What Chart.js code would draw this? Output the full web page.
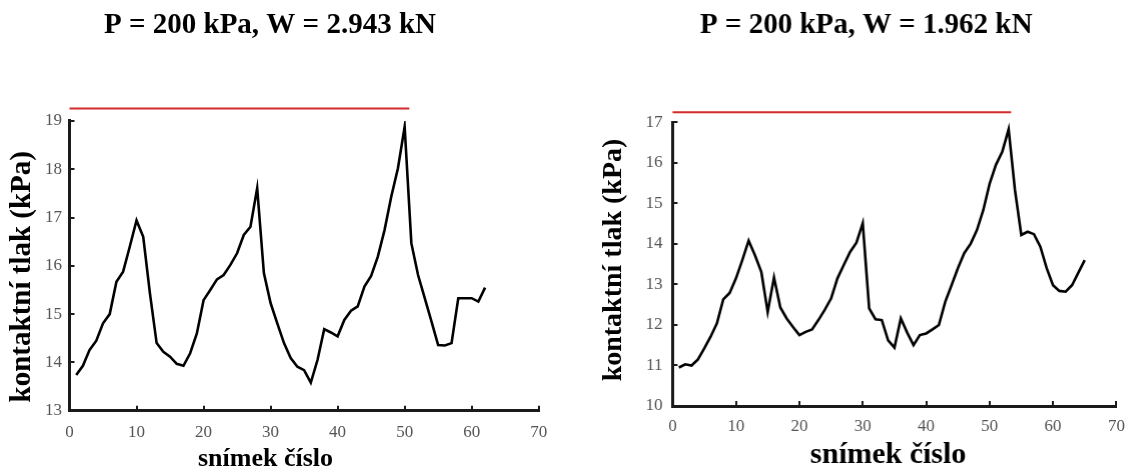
<!DOCTYPE html>
<html lang="cs">
<head>
<meta charset="UTF-8">
<title>Kontaktní tlak</title>
<style>
  body { margin: 0; background: #fff; width: 1129px; height: 470px; overflow: hidden; position: relative; }
  .box { position: absolute; top: 0; height: 470px; }
  #left { left: -24px; width: 588px; }
  #right { left: 592.3px; width: 547.4px; }
</style>
</head>
<body>
<div class="box" id="left"><canvas id="chartLeft"></canvas></div>
<div class="box" id="right"><canvas id="chartRight"></canvas></div>

<script src="https://cdn.jsdelivr.net/npm/chart.js@4"></script>
<script>
  // data (frame number = index + 1)
  const leftTitle = 'P = 200 kPa, W = 2.943 kN';
  const rightTitle = 'P = 200 kPa, W = 1.962 kN';
  const xLabel = 'snímek číslo';
  const yLabel = 'kontaktní tlak (kPa)';

  const leftPressure = [13.74, 13.93, 14.26, 14.45, 14.81, 15.00, 15.67, 15.88, 16.40, 16.94,
    16.60, 15.43, 14.40, 14.22, 14.12, 13.97, 13.93, 14.19, 14.60, 15.29,
    15.50, 15.72, 15.81, 16.02, 16.26, 16.64, 16.81, 17.61, 15.85, 15.23,
    14.81, 14.40, 14.09, 13.91, 13.84, 13.58, 14.05, 14.69, 14.62, 14.54,
    14.88, 15.07, 15.16, 15.57, 15.79, 16.19, 16.74, 17.43, 18.02, 18.88,
    16.47, 15.81, 15.33, 14.85, 14.36, 14.35, 14.40, 15.33, 15.33, 15.33, 15.26, 15.55];

  const rightPressure = [10.95, 11.03, 11.00, 11.15, 11.42, 11.71, 12.04, 12.63, 12.79, 13.15,
    13.60, 14.08, 13.72, 13.31, 12.32, 13.17, 12.43, 12.16, 11.95, 11.75,
    11.83, 11.89, 12.12, 12.37, 12.65, 13.15, 13.48, 13.80, 14.03, 14.51,
    12.41, 12.14, 12.12, 11.62, 11.44, 12.16, 11.81, 11.50, 11.75, 11.79,
    11.89, 12.00, 12.57, 12.98, 13.40, 13.77, 14.00, 14.34, 14.83, 15.48,
    15.95, 16.27, 16.83, 15.33, 14.22, 14.30, 14.24, 13.93, 13.40, 12.98,
    12.84, 12.82, 12.98, 13.29, 13.60];

  // red reference line above each plot
  const leftRedX = [0, 50.7];
  const leftRedY = 19.26;
  const rightRedX = [0, 53.4];
  const rightRedY = 17.25;

  const leftYRange = [13, 19];
  const rightYRange = [10, 17];
  const xRange = [0, 70];

  const serif = "'Liberation Serif', 'Times New Roman', serif";

  // axis titles drawn by hand so they can sit off-centre like in the figure
  const axisTitles = {
    id: 'axisTitles',
    afterDraw(chart, args, opts) {
      const c = chart.ctx;
      c.save();
      c.fillStyle = '#000';
      c.textAlign = 'center';
      c.textBaseline = 'alphabetic';
      c.font = 'bold ' + opts.xSize + 'px ' + serif;
      c.fillText(xLabel, opts.xPos[0], opts.xPos[1]);
      c.textBaseline = 'middle';
      c.translate(opts.yPos[0], opts.yPos[1]);
      c.rotate(-Math.PI / 2);
      c.font = 'bold ' + opts.ySize + 'px ' + serif;
      c.fillText(yLabel, 0, 0);
      c.restore();
    }
  };

  function makeChart(id, o) {
    const ctx = document.getElementById(id).getContext('2d');
    return new Chart(ctx, {
      type: 'line',
      data: {
        datasets: [{
          data: o.values.map((v, i) => ({ x: i + 1, y: v })),
          borderColor: '#000',
          borderWidth: 2.6,
          pointRadius: 0,
          tension: 0,
          fill: false
        }, {
          data: o.redX.map(x => ({ x: x, y: o.redY })),
          borderColor: '#d42a2a',
          borderWidth: 2,
          pointRadius: 0,
          clip: false,
          fill: false
        }]
      },
      plugins: [axisTitles],
      options: {
        responsive: true,
        maintainAspectRatio: false,
        animation: false,
        layout: { padding: 0 },
        plugins: {
          legend: { display: false },
          tooltip: { enabled: false },
          title: {
            display: true,
            text: o.title,
            color: '#000',
            font: { family: serif, size: 29, weight: 'bold', lineHeight: 1.2 },
            padding: { top: 8.6, bottom: o.titleGap }
          },
          axisTitles: { xSize: o.xSize, xPos: o.xPos, ySize: o.ySize, yPos: o.yPos }
        },
        scales: {
          x: {
            type: 'linear',
            min: xRange[0],
            max: xRange[1],
            border: { color: '#1a1a1a', width: 3 },
            grid: { drawOnChartArea: false, drawTicks: true, tickLength: -5, color: '#1a1a1a', lineWidth: 2 },
            ticks: { stepSize: 10, color: '#555', padding: o.xTickPad, maxRotation: 0,
              font: { family: serif, size: 17 } },
            afterFit: s => { s.height = o.xAxisH; }
          },
          y: {
            min: o.yRange[0],
            max: o.yRange[1],
            border: { color: '#1a1a1a', width: 3 },
            grid: { drawOnChartArea: false, drawTicks: true, tickLength: -5, color: '#1a1a1a', lineWidth: 2 },
            ticks: { stepSize: 1, color: '#555', padding: o.yTickPad,
              font: { family: serif, size: 17 } },
            afterFit: s => { s.width = o.yAxisW; }
          }
        }
      }
    });
  }

  makeChart('chartLeft', {
    title: leftTitle, values: leftPressure, redX: leftRedX, redY: leftRedY,
    yRange: leftYRange, titleGap: 77.6,
    xAxisH: 59.3, xTickPad: 16.8, yAxisW: 93.5, yTickPad: 12.5,
    xSize: 26, xPos: [289.5, 466], ySize: 29, yPos: [46.5, 276.7]
  });

  makeChart('chartRight', {
    title: rightTitle, values: rightPressure, redX: rightRedX, redY: rightRedY,
    yRange: rightYRange, titleGap: 78.9,
    xAxisH: 64, xTickPad: 15.5, yAxisW: 80.4, yTickPad: 15,
    xSize: 30, xPos: [295.7, 463], ySize: 28, yPos: [21.7, 260]
  });
</script>
</body>
</html>
